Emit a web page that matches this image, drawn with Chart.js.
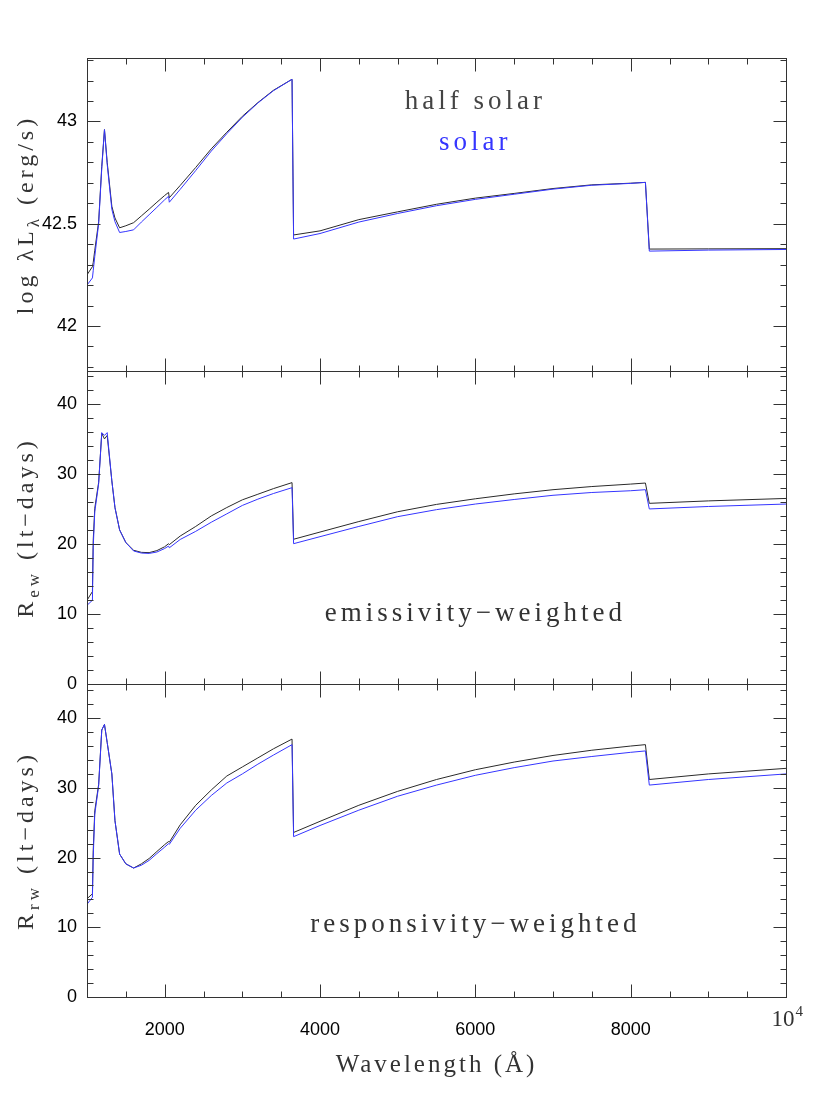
<!DOCTYPE html>
<html>
<head>
<meta charset="utf-8">
<script src="https://cdn.jsdelivr.net/npm/chart.js@4.4.1/dist/chart.umd.min.js"></script>
<style>
  html, body { margin: 0; padding: 0; background: #fff; }
</style>
</head>
<body>
<canvas id="blr" width="830" height="1106"></canvas>
<script>
// wavelength grid (Angstrom), shared by every curve
const wavelengths = [1000, 1070, 1080, 1100, 1150, 1190, 1225, 1260, 1320, 1360, 1420, 1500, 1600, 1700, 1800, 1900, 2000, 2050, 2060, 2200,
  2400, 2600, 2800, 3000, 3200, 3400, 3640, 3660, 4000, 4500, 5000, 5500, 6000, 6500, 7000, 7500, 8000, 8190, 8240, 9000, 10000];

// top panel: log lambda L_lambda (erg/s)
const logLHalfSolar = [42.25, 42.29, 42.31, 42.37, 42.51, 42.78, 42.96, 42.80, 42.585, 42.528, 42.48, 42.49, 42.505, 42.538, 42.571, 42.605, 42.638, 42.653, 42.627, 42.687,
  42.775, 42.866, 42.947, 43.025, 43.092, 43.152, 43.206, 42.445, 42.465, 42.52, 42.558, 42.595, 42.625, 42.648, 42.672, 42.69, 42.698, 42.702, 42.376, 42.377, 42.378];
const logLSolar = [42.20, 42.235, 42.27, 42.34, 42.50, 42.77, 42.96, 42.79, 42.57, 42.51, 42.457, 42.462, 42.47, 42.508, 42.544, 42.58, 42.617, 42.634, 42.605, 42.668,
  42.76, 42.855, 42.94, 43.02, 43.09, 43.15, 43.206, 42.425, 42.452, 42.508, 42.55, 42.588, 42.619, 42.644, 42.669, 42.688, 42.697, 42.702, 42.366, 42.371, 42.374];

// middle panel: emissivity-weighted radius (lt-days)
const rEwHalfSolar = [11.96, 13.2, 20.5, 25.1, 28.8, 35.8, 35.0, 35.5, 29.0, 25.2, 22.0, 20.2, 19.1, 18.8, 18.76, 19.05, 19.6, 20.04, 19.9, 21.13,
  22.5, 24.0, 25.2, 26.3, 27.1, 27.9, 28.76, 20.67, 21.7, 23.2, 24.6, 25.65, 26.45, 27.15, 27.75, 28.2, 28.55, 28.7, 25.8, 26.15, 26.5];
const rEwSolar = [11.24, 11.96, 19.5, 24.6, 28.6, 35.9, 35.5, 35.9, 29.0, 25.2, 22.0, 20.2, 19.0, 18.7, 18.65, 18.85, 19.35, 19.7, 19.45, 20.64,
  21.8, 23.1, 24.3, 25.5, 26.4, 27.2, 28.04, 20.04, 21.04, 22.5, 23.9, 24.9, 25.7, 26.35, 26.95, 27.35, 27.6, 27.75, 25.0, 25.35, 25.7];

// bottom panel: responsivity-weighted radius (lt-days)
const rRwHalfSolar = [14.1, 14.8, 21.0, 26.7, 30.5, 38.3, 39.1, 36.5, 32.0, 25.3, 20.5, 19.1, 18.5, 19.1, 19.87, 20.87, 21.86, 22.3, 22.2, 24.7,
  27.5, 29.7, 31.7, 33.0, 34.3, 35.6, 37.0, 23.6, 25.2, 27.5, 29.5, 31.2, 32.6, 33.7, 34.65, 35.4, 36.0, 36.2, 31.2, 32.0, 32.8];
const rRwSolar = [13.3, 14.3, 20.0, 26.2, 30.3, 38.3, 39.1, 36.5, 32.0, 25.3, 20.5, 19.1, 18.5, 18.9, 19.6, 20.57, 21.5, 22.0, 21.9, 24.2,
  26.8, 28.9, 30.7, 32.0, 33.4, 34.7, 36.2, 23.0, 24.6, 26.8, 28.8, 30.4, 31.8, 32.9, 33.85, 34.5, 35.1, 35.3, 30.4, 31.2, 32.0];

// tick labels
const xTickLabels = [2000, 4000, 6000, 8000];
const logLTicks = [42, 42.5, 43];
const rEwTicks = [0, 10, 20, 30, 40];
const rRwTicks = [0, 10, 20, 30, 40];

const BLACK = '#2a2a2a';
const BLUE = '#3535ff';
const SERIF = '"Liberation Serif", "DejaVu Serif", serif';
const SANS = '"Liberation Sans", Arial, sans-serif';

function pts(ys) {
  return wavelengths.map((w, i) => ({x: w, y: ys[i]}));
}

function line(label, ys, color, axis) {
  return {label, data: pts(ys), yAxisID: axis, borderColor: color, borderWidth: 1,
          pointRadius: 0, tension: 0, fill: false};
}

// panel decoration: frame, inward ticks, titles
const panels = [
  {id: 'yL', minor: 0.1, major: 0.5, title: [['log λL', 0], ['λ', 1], [' (erg/s)', 0]]},
  {id: 'yE', minor: 2, major: 10, title: [['R', 0], ['ew', 1], [' (lt−days)', 0]]},
  {id: 'yR', minor: 2, major: 10, title: [['R', 0], ['rw', 1], [' (lt−days)', 0]]}
];

const notes = [
  {axis: 'yL', x: 6000, y: 43.062, text: 'half solar', color: '#444'},
  {axis: 'yL', x: 6000, y: 42.858, text: 'solar', color: BLUE},
  {axis: 'yE', x: 6000, y: 9.0, text: 'emissivity−weighted', color: '#333'},
  {axis: 'yR', x: 6000, y: 9.33, text: 'responsivity−weighted', color: '#333'}
];

const isMult = (v, s) => Math.abs(v / s - Math.round(v / s)) < 1e-6;

const framePlugin = {
  id: 'frames',
  afterDatasetsDraw(chart) {
    const ctx = chart.ctx;
    const xs = chart.scales.x;
    const left = Math.round(chart.chartArea.left) + 0.5;
    const right = Math.round(chart.chartArea.right) + 0.5;
    ctx.save();
    ctx.lineWidth = 1;
    ctx.strokeStyle = '#333';
    panels.forEach(p => {
      const ys = chart.scales[p.id];
      const top = Math.round(ys.top) + 0.5;
      const bottom = Math.round(ys.bottom) + 0.5;
      ctx.strokeRect(left, top, right - left, bottom - top);
      ctx.beginPath();
      const n0 = Math.ceil(ys.min / p.minor - 1e-6);
      const n1 = Math.floor(ys.max / p.minor + 1e-6);
      for (let n = n0; n <= n1; n++) {
        const v = n * p.minor;
        const len = isMult(v, p.major) ? 13 : 6;
        const py = Math.round(ys.getPixelForValue(v)) + 0.5;
        ctx.moveTo(left, py); ctx.lineTo(left + len, py);
        ctx.moveTo(right, py); ctx.lineTo(right - len, py);
      }
      for (let v = 1500; v < 10000; v += 500) {
        const len = isMult(v, 2000) ? 13 : 6;
        const px = Math.round(xs.getPixelForValue(v)) + 0.5;
        ctx.moveTo(px, top); ctx.lineTo(px, top + len);
        ctx.moveTo(px, bottom); ctx.lineTo(px, bottom - len);
      }
      ctx.stroke();
    });
    ctx.restore();
  },
  afterDraw(chart) {
    const ctx = chart.ctx;
    const xs = chart.scales.x;
    ctx.save();
    ctx.letterSpacing = '4px';
    // rotated y titles with subscripts
    panels.forEach(p => {
      const ys = chart.scales[p.id];
      const big = '24px ' + SERIF, small = '17px ' + SERIF;
      let total = 0;
      p.title.forEach(([t, sub]) => { ctx.font = sub ? small : big; total += ctx.measureText(t).width; });
      ctx.save();
      ctx.translate(33, (ys.top + ys.bottom) / 2);
      ctx.rotate(-Math.PI / 2);
      ctx.fillStyle = '#333';
      ctx.textBaseline = 'alphabetic';
      ctx.textAlign = 'left';
      let cx = -total / 2;
      p.title.forEach(([t, sub]) => {
        ctx.font = sub ? small : big;
        ctx.fillText(t, cx, sub ? 6 : 0);
        cx += ctx.measureText(t).width;
      });
      ctx.restore();
    });
    // annotations inside panels
    ctx.font = '27px ' + SERIF;
    ctx.textAlign = 'center';
    ctx.textBaseline = 'alphabetic';
    notes.forEach(n => {
      ctx.fillStyle = n.color;
      ctx.fillText(n.text, xs.getPixelForValue(n.x), chart.scales[n.axis].getPixelForValue(n.y));
    });
    // x title
    ctx.letterSpacing = '3px';
    ctx.font = '25px ' + SERIF;
    ctx.fillStyle = '#333';
    ctx.fillText('Wavelength (Å)', (chart.chartArea.left + chart.chartArea.right) / 2, 1072);
    // 10^4 label at the right end of the x axis
    ctx.letterSpacing = '0px';
    const px = xs.getPixelForValue(10000);
    ctx.textAlign = 'left';
    ctx.font = '23px ' + SERIF;
    const w10 = ctx.measureText('10').width;
    ctx.fillText('10', px - w10 / 2 - 3, 1026);
    ctx.font = '15px ' + SERIF;
    ctx.fillText('4', px + w10 / 2 - 2, 1016);
    ctx.restore();
  }
};

function yAxis(min, max, ticks) {
  return {
    type: 'linear', position: 'left', stack: 'panels', stackWeight: 1,
    min, max, bounds: 'data',
    grid: {display: false, drawTicks: false},
    border: {display: false},
    afterBuildTicks: s => { s.ticks = ticks.map(v => ({value: v})); },
    afterFit: s => { s.width = 87; },
    ticks: {color: '#000', font: {family: SANS, size: 18}, padding: 10, callback: v => String(v)}
  };
}

new Chart(document.getElementById('blr'), {
  type: 'line',
  data: {
    datasets: [
      line('solar', logLSolar, BLUE, 'yL'),
      line('solar', rEwSolar, BLUE, 'yE'),
      line('solar', rRwSolar, BLUE, 'yR'),
      line('half solar', logLHalfSolar, BLACK, 'yL'),
      line('half solar', rEwHalfSolar, BLACK, 'yE'),
      line('half solar', rRwHalfSolar, BLACK, 'yR')
    ]
  },
  options: {
    responsive: false,
    animation: false,
    devicePixelRatio: 1,
    events: [],
    layout: {padding: {top: 58, right: 44, left: 0, bottom: 0}},
    plugins: {legend: {display: false}, tooltip: {enabled: false}},
    scales: {
      x: {
        type: 'linear', min: 1000, max: 10000, bounds: 'data',
        grid: {display: false, drawTicks: false},
        border: {display: false},
        afterBuildTicks: s => { s.ticks = xTickLabels.map(v => ({value: v})); },
        afterFit: s => { s.height = 109; },
        ticks: {color: '#000', font: {family: SANS, size: 18}, padding: 22, callback: v => String(v)}
      },
      // stacked left axes are placed from the last defined (top) to the first (bottom)
      yR: yAxis(0, 44.9, rRwTicks),
      yE: yAxis(0, 44.7, rEwTicks),
      yL: yAxis(41.78, 43.31, logLTicks)
    }
  },
  plugins: [framePlugin]
});
</script>
</body>
</html>
